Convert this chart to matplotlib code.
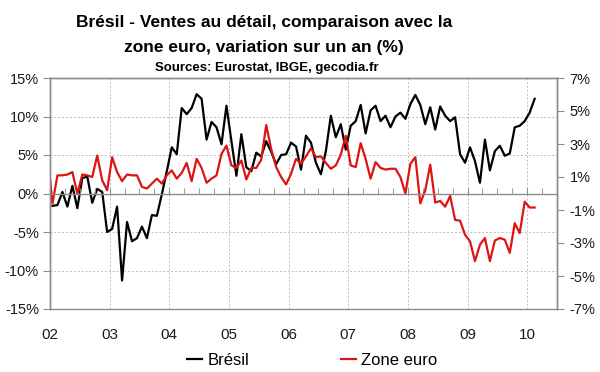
import numpy as np
import matplotlib
matplotlib.use("Agg")
import matplotlib.pyplot as plt
from matplotlib.ticker import FixedLocator, FuncFormatter

plt.rcParams['font.family'] = ['Liberation Sans', 'DejaVu Sans']

# monthly values, Jan 2002 -> Feb 2010 (left axis, %)
bresil = [-1.6, -1.5, 0.2, -1.7, 1.0, -1.9, 2.0, 2.2, -1.2, 0.6, 0.2, -5.0,
          -4.6, -1.7, -11.3, -3.7, -6.2, -5.8, -4.3, -5.8, -2.8, -2.9, -0.1, 2.9,
          6.0, 5.1, 11.1, 10.3, 11.1, 12.9, 12.3, 7.0, 9.3, 8.6, 6.4, 11.4,
          6.8, 2.3, 7.7, 3.4, 2.9, 5.3, 4.8, 6.8, 5.4, 3.8, 5.0, 5.1,
          6.6, 6.1, 3.1, 7.5, 6.6, 4.0, 2.5, 5.5, 10.1, 7.3, 9.0, 5.7,
          8.8, 9.4, 11.5, 7.8, 10.8, 11.4, 9.4, 10.1, 8.6, 10.0, 10.5, 9.7,
          11.6, 12.8, 11.5, 9.0, 11.2, 8.3, 11.3, 10.1, 9.4, 9.9, 5.1, 4.0,
          6.0, 4.2, 1.4, 7.0, 3.0, 5.5, 6.2, 4.9, 5.2, 8.6, 8.8, 9.4,
          10.5, 12.3]

# monthly values, Dec 2001 -> Feb 2010 (right axis, %)
zone_euro = [2.4,
             -0.6, 1.1, 1.1, 1.15, 1.3, 0.0, 1.15, 1.1, 1.0, 2.3, 0.8, 0.2,
             2.2, 1.3, 0.75, 1.15, 1.1, 1.1, 0.4, 0.3, 0.6, 0.9, 0.6, 1.1,
             1.4, 0.9, 1.25, 1.85, 0.75, 2.1, 1.55, 0.65, 0.9, 1.1, 2.4, 2.9,
             1.7, 1.55, 2.0, 0.85, 1.55, 1.55, 2.05, 4.15, 2.7, 1.6, 1.0, 0.55,
             1.2, 2.1, 1.8, 2.25, 2.75, 2.2, 2.25, 1.85, 1.5, 1.7, 2.35, 3.5,
             1.7, 1.6, 3.05, 2.1, 0.9, 1.9, 1.55, 1.45, 1.5, 1.5, 1.0, 0.0,
             1.8, 2.2, -0.6, 0.2, 1.75, -0.55, -0.45, -0.8, -0.15, -1.6, -1.65, -2.5,
             -2.9, -4.1, -3.1, -2.7, -4.1, -2.85, -2.7, -2.8, -3.6, -1.8, -2.4, -0.5,
             -0.85, -0.85]

years = list(range(2002, 2011))
year_labels = ['02', '03', '04', '05', '06', '07', '08', '09', '10']
left_ticks = [-15, -10, -5, 0, 5, 10, 15]
right_ticks = [-7, -5, -3, -1, 1, 3, 5, 7]

x_br = 2002 + (np.arange(len(bresil)) + 0.5) / 12
x_ze = 2002 + (np.arange(len(zone_euro)) - 0.5) / 12

grey = '#8c8c8c'

fig = plt.figure(figsize=(6, 3.72), dpi=100)
ax = fig.add_axes([50 / 600, 1 - 309 / 372, 507 / 600, 231 / 372])
ax2 = ax.twinx()

l1, = ax.plot(x_br, bresil, color='black', lw=1.6, label='Brésil', zorder=3)
l2, = ax2.plot(x_ze, zone_euro, color='#dd1414', lw=1.6, label='Zone euro')

ax.set_xlim(2002, 2010.5)
ax.set_ylim(-15, 15)
ax2.set_ylim(-7, 7)

ax.set_yticks(left_ticks)
ax.yaxis.set_major_formatter(FuncFormatter(lambda v, p: f'{v:.0f}%'))
ax2.set_yticks(right_ticks)
ax2.yaxis.set_major_formatter(FuncFormatter(lambda v, p: f'{v:.0f}%'))

ax.xaxis.set_major_locator(FixedLocator(years))
ax.xaxis.set_minor_locator(FixedLocator(np.arange(2002, 2010.5, 0.25)))
ax.set_xticklabels(year_labels)

ax.grid(True, which='major', color='#bdbdbd', ls=(0, (2, 2)), lw=0.7)
ax.set_axisbelow(True)

for a in (ax, ax2):
    for s in a.spines.values():
        s.set_color(grey)
        s.set_linewidth(1.0)

ax.tick_params(axis='x', which='both', length=0, pad=14, labelsize=11, labelcolor='#1a1a1a')
ax.tick_params(axis='y', direction='out', length=5, color=grey, labelsize=10.5,
               labelcolor='#1a1a1a', pad=3)
ax2.tick_params(axis='y', direction='out', length=5, color=grey, labelsize=10.5,
                labelcolor='#1a1a1a', pad=4)

# zero line with quarterly ticks
ax2.xaxis.set_visible(True)
ax2.spines['bottom'].set_position(('data', 0))
ax2.tick_params(axis='x', which='both', direction='in', length=4, color=grey,
                labelbottom=False)

fig.text(0.44, 0.927, 'Brésil - Ventes au détail, comparaison avec la',
         ha='center', va='baseline', fontsize=12.5, fontweight='bold')
fig.text(0.44, 0.860, 'zone euro, variation sur un an (%)',
         ha='center', va='baseline', fontsize=12.5, fontweight='bold')
fig.text(0.445, 0.809, 'Sources: Eurostat, IBGE, gecodia.fr',
         ha='center', va='baseline', fontsize=9.5, fontweight='bold')

fig.legend(handles=[l1, l2], loc='center', bbox_to_anchor=(0.52, 0.032), ncol=2,
           frameon=False, fontsize=12, handlelength=0.9, handletextpad=0.3,
           columnspacing=5.5)

fig.savefig('out.png', dpi=100)
